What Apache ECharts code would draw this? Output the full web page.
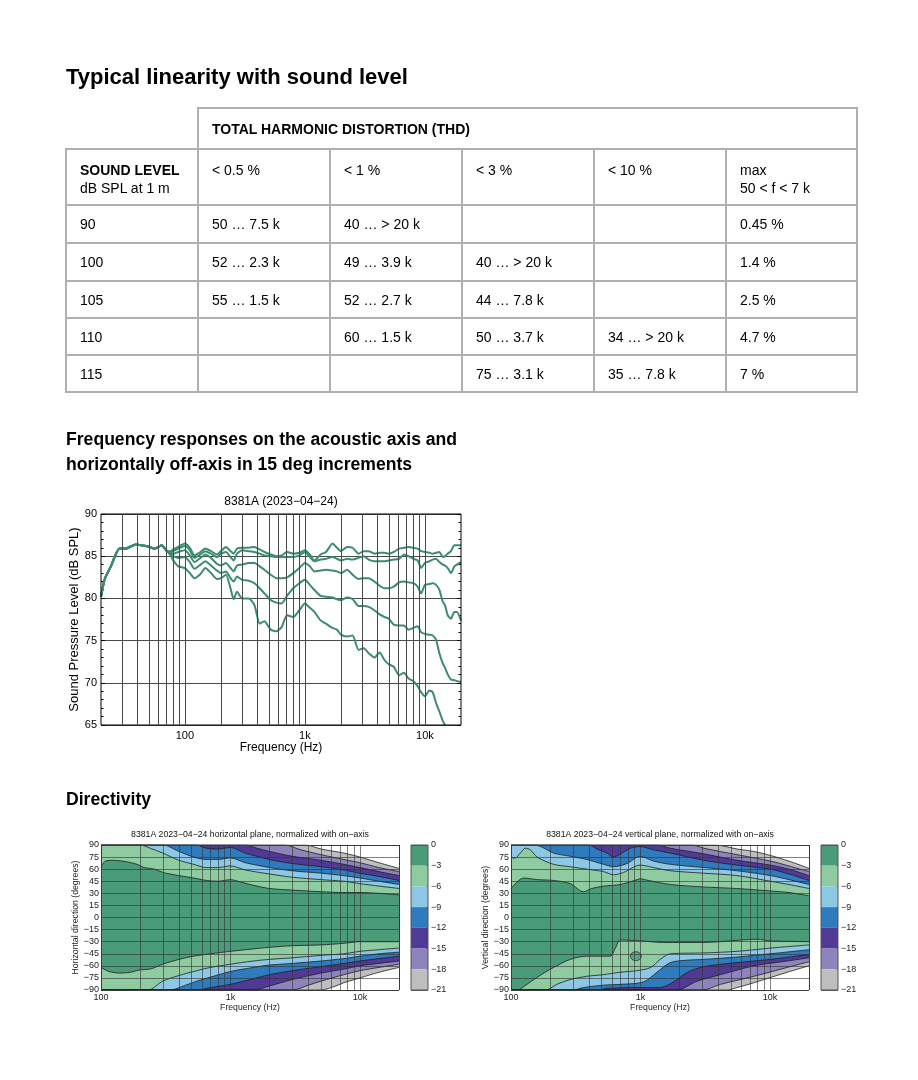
<!DOCTYPE html>
<html><head><meta charset="utf-8">
<script src="https://cdn.jsdelivr.net/npm/echarts@6/dist/echarts.min.js"></script>
<style>
html,body{margin:0;padding:0;background:#fff;}
#page{position:relative;width:918px;height:1080px;overflow:hidden;font-family:"Liberation Sans",Arial,Helvetica,sans-serif;color:#000;background:#fff;}
#chart{position:absolute;left:0;top:0;width:918px;height:1080px;}
.h{position:absolute;left:66px;font-weight:bold;margin:0;white-space:nowrap;}
#t1{top:66px;font-size:22px;line-height:22px;}
#t2{top:427px;font-size:17.6px;line-height:25px;}
#t3{top:787px;font-size:17.6px;line-height:25px;}
.ln{position:absolute;background:#b0b0b0;}
.cell{position:absolute;font-size:14px;line-height:18px;white-space:pre;}
.b{font-weight:bold;}
</style></head>
<body>
<div id="page">
  <div id="chart"></div>
  <div class="h" id="t1">Typical linearity with sound level</div>
  <div id="table"></div>
  <div class="h" id="t2">Frequency responses on the acoustic axis and<br>horizontally off-axis in 15 deg increments</div>
  <div class="h" id="t3">Directivity</div>
</div>
<script>
// ---------------- table data ----------------
const thdHeader = 'TOTAL HARMONIC DISTORTION (THD)';
const thdCols = ['< 0.5 %', '< 1 %', '< 3 %', '< 10 %', 'max\n50 < f < 7 k'];
const levelLabels = ['90', '100', '105', '110', '115'];
const thdRows = [
  ['50 … 7.5 k', '40 … > 20 k', '', '', '0.45 %'],
  ['52 … 2.3 k', '49 … 3.9 k', '40 … > 20 k', '', '1.4 %'],
  ['55 … 1.5 k', '52 … 2.7 k', '44 … 7.8 k', '', '2.5 %'],
  ['', '60 … 1.5 k', '50 … 3.7 k', '34 … > 20 k', '4.7 %'],
  ['', '', '75 … 3.1 k', '35 … 7.8 k', '7 %']
];

// ---------------- frequency response data ----------------
const freqs = [20,21.5,24,26.5,28.5,32,39,47.5,56,64,71,76,80,88,100,110,120,135,148,165,185,200,220,240,255,272,300,340,380,420,460,520,580,640,710,800,900,1000,1100,1200,1350,1500,1700,1850,2000,2250,2500,2800,3100,3400,3800,4200,4600,5000,5500,6100,6700,7300,8000,8700,9300,10000,10900,11600,12400,13200,14100,14700,15500,16500,17600,18500,20000];
const resp0 = [80.2,82.3,83.7,85.2,85.9,85.9,86.4,86.2,85.9,86.3,85.6,
  85.6,85.8,86.1,86.5,86.0,85.1,85.5,85.9,85.6,85.2,85.6,86.1,85.6,85.3,85.9,86.0,86.0,86.1,85.8,85.5,85.2,85.0,85.1,85.5,85.3,85.4,85.7,85.2,84.5,85.2,85.5,86.5,86.0,85.6,86.1,86.0,85.3,85.6,85.6,85.3,85.4,85.4,85.3,85.5,85.9,86.0,86.1,86.0,85.9,85.6,85.5,85.4,85.3,85.4,85.5,84.9,85.0,85.3,85.6,86.3,86.3,86.3];
const resp15 = [80.2,82.3,83.7,85.2,85.9,85.9,86.4,86.2,85.9,86.3,85.6,
  85.5,85.6,85.9,86.2,85.7,84.8,85.2,85.6,85.3,84.9,85.3,85.5,84.9,84.5,85.3,85.7,85.6,85.5,85.3,85.1,85.0,84.9,84.9,84.9,84.9,85.1,85.5,84.9,84.4,84.6,84.7,84.9,84.7,84.5,84.7,84.6,84.8,85.0,84.6,84.4,84.4,84.4,84.5,84.6,84.7,85.2,85.0,84.7,84.5,83.6,84.2,84.4,84.6,84.7,84.3,84.0,83.9,83.6,83.0,83.8,84.0,84.3];
const resp30 = [80.2,82.3,83.7,85.2,85.9,85.9,86.4,86.2,85.9,86.3,85.6,
  85.4,85.3,85.5,85.7,85.1,84.3,84.8,85.2,84.8,84.1,83.9,84.2,83.6,83.2,83.9,84.0,84.2,84.2,83.8,83.4,82.8,82.4,82.4,82.5,83.0,83.6,84.2,83.8,83.2,83.3,83.4,83.3,83.2,83.0,83.4,82.8,82.3,82.4,82.4,82.0,81.5,81.2,81.2,81.4,81.9,82.0,81.9,81.8,81.4,80.6,81.6,81.7,81.8,81.6,81.0,79.6,79.2,78.0,77.6,78.4,78.4,77.4];
const resp45 = [80.2,82.3,83.7,85.2,85.9,85.9,86.4,86.2,85.9,86.3,85.6,
  85.3,85.0,84.8,84.9,84.3,83.5,84.0,84.4,83.9,83.3,83.0,83.2,82.4,82.0,82.6,82.2,82.1,81.8,81.2,80.6,79.8,79.5,79.4,80.3,81.2,81.8,82.2,81.6,81.0,80.3,80.2,80.1,79.9,79.8,80.1,79.9,79.1,79.1,79.0,78.6,78.1,77.8,77.6,76.9,76.8,76.8,76.3,76.5,76.7,76.0,75.8,75.7,75.6,75.1,73.5,72.3,71.8,71.0,70.4,70.3,70.2,70.1];
const resp60 = [80.2,82.3,83.7,85.2,85.9,85.9,86.4,86.2,85.9,86.3,85.6,
  85.1,84.5,83.8,83.6,83.0,82.4,82.9,83.6,83.0,82.3,82.4,82.8,81.2,79.9,80.8,80.0,80.0,79.2,77.0,77.3,76.3,76.1,76.6,78.0,77.8,78.6,79.4,78.9,78.4,77.4,77.0,76.5,76.3,75.7,75.5,75.6,73.9,74.1,73.5,73.0,73.6,72.7,72.2,71.9,70.9,71.2,70.5,70.2,69.6,68.9,68.4,69.1,68.9,67.6,66.6,65.5,65.0,64.2,null,null,null,null];
const responses = [resp0, resp15, resp30, resp45, resp60];
const lineGridFreqs = [30,40,50,60,70,80,90,100,200,300,400,500,600,700,800,900,1000,2000,3000,4000,5000,6000,7000,8000,9000,10000];

// ---------------- directivity data: contour boundary [Hz, deg] ----------------
const hUp3  = [[100,62],[108,70],[125,71],[160,69],[190,66],[215,62],[260,60],[300,56],[400,52],[520,49],[650,46],[800,45],[1000,47],[1200,44],[1500,40],[2000,36],[3000,34],[5000,32],[7500,31],[10000,31],[14000,30],[20000,28]];
const hUp6  = [[100,90],[200,90],[240,86],[300,80],[400,71],[520,66],[650,62],[800,62],[1000,64],[1300,59],[2000,54],[3000,50],[5000,47],[7500,45],[10000,42],[14000,39],[20000,36]];
const hUp9  = [[100,90],[300,90],[400,82],[520,75],[650,72],[800,72],[1000,74],[1300,68],[2000,62],[3000,58],[5000,55],[7500,52],[10000,49],[14000,45],[20000,41]];
const hUp12 = [[100,90],[540,90],[650,86],[800,85],[1000,87],[1300,80],[2000,72],[3000,67],[5000,63],[7500,59],[10000,55],[14000,51],[20000,46]];
const hUp15 = [[100,90],[1300,90],[1600,86],[2000,82],[3000,76],[5000,71],[7500,66],[10000,62],[14000,57],[20000,52]];
const hUp18 = [[100,90],[2600,90],[3500,84],[5000,78],[7500,72],[10000,68],[14000,62],[20000,57]];
const hUp21 = [[100,90],[3800,90],[5000,85],[7500,80],[10000,75],[14000,68],[20000,61]];
const hLo3  = [[100,-62],[115,-67],[140,-69],[170,-68],[200,-65],[240,-64],[300,-58],[400,-52],[520,-48],[700,-45],[1000,-42],[1500,-39],[2000,-37],[3000,-35],[5000,-34],[7500,-32],[10000,-30],[14000,-30],[20000,-30]];
const hLo6  = [[100,-90],[230,-90],[300,-79],[400,-72],[520,-67],[700,-62],[1000,-58],[1500,-54],[2000,-52],[3000,-50],[5000,-47],[7500,-45],[10000,-42],[14000,-40],[20000,-38]];
const hLo9  = [[100,-90],[340,-90],[450,-84],[550,-79],[700,-74],[1000,-67],[1500,-62],[2000,-59],[3000,-57],[5000,-54],[7500,-51],[10000,-48],[14000,-45],[20000,-43]];
const hLo12 = [[100,-90],[560,-90],[700,-87],[1000,-83],[1500,-76],[2000,-71],[3000,-66],[5000,-61],[7500,-57],[10000,-54],[14000,-51],[20000,-48]];
const hLo15 = [[100,-90],[1500,-90],[2000,-85],[3000,-77],[5000,-69],[7500,-64],[10000,-60],[14000,-57],[20000,-54]];
const hLo18 = [[100,-90],[3000,-90],[4000,-84],[5000,-79],[7500,-71],[10000,-66],[14000,-62],[20000,-58]];
const hLo21 = [[100,-90],[5000,-90],[6500,-85],[7500,-81],[10000,-75],[14000,-68],[20000,-62]];

const vUp3  = [[100,36],[115,46],[125,49],[160,47],[213,46],[287,42],[363,32],[420,36],[520,39],[700,41],[900,46],[1000,48],[1150,46],[1700,41],[3000,38],[5500,36],[10000,33],[14000,31],[20000,27]];
const vUp6  = [[100,74],[108,74],[118,80],[129,86],[141,84],[159,75],[213,66],[287,63],[385,60],[518,57],[619,53],[740,56],[995,65],[1262,62],[1699,58],[3080,55],[5575,52],[10090,45],[14000,41],[20000,36]];
const vUp9  = [[100,90],[150,90],[170,88],[213,80],[287,76],[385,72],[518,66],[619,63],[785,67],[995,76],[1262,70],[1699,66],[3080,62],[5575,58],[10090,52],[14000,47],[20000,41]];
const vUp12 = [[100,90],[400,90],[461,85],[550,80],[619,75],[700,79],[833,86],[995,88],[1262,84],[1699,80],[3080,71],[5575,65],[10090,60],[14000,54],[20000,46]];
const vUp15 = [[100,90],[1340,90],[1700,86],[3080,79],[5575,71],[10090,65],[14000,60],[20000,52]];
const vUp18 = [[100,90],[2500,90],[3080,86],[5575,78],[10090,70],[14000,64],[20000,57]];
const vUp21 = [[100,90],[3800,90],[5575,85],[7500,82],[10090,77],[14000,70],[20000,61]];
const vLo3  = [[100,-90],[112,-90],[130,-84],[160,-74],[213,-62],[287,-52],[385,-48],[583,-48],[640,-38],[700,-28],[1000,-29],[1500,-31],[3000,-31],[6000,-28],[8000,-27],[10000,-29],[20000,-30]];
const vLo6  = [[100,-90],[185,-90],[226,-83],[287,-77],[385,-73],[518,-71],[697,-68],[938,-66],[1200,-62],[1421,-52],[1700,-45],[3080,-44],[5575,-42],[10090,-38],[20000,-34]];
const vLo9  = [[100,-90],[300,-90],[363,-87],[518,-84],[697,-83],[1056,-80],[1339,-68],[1699,-56],[2287,-53],[3080,-52],[5575,-49],[10090,-45],[20000,-40]];
const vLo12 = [[100,-90],[470,-90],[550,-88],[900,-87],[1400,-87],[1800,-80],[2300,-68],[3080,-61],[5575,-56],[10090,-52],[20000,-46]];
const vLo15 = [[100,-90],[1900,-90],[2734,-79],[4144,-71],[7500,-60],[13570,-54],[20000,-50]];
const vLo18 = [[100,-90],[3000,-90],[4144,-83],[7500,-73],[13570,-62],[20000,-55]];
const vLo21 = [[100,-90],[4700,-90],[5575,-87],[7500,-81],[13570,-68],[20000,-60]];
const vIsland = [[920,-48]];

const contourGridFreqs = [200,300,400,500,600,700,800,900,1000,2000,3000,4000,5000,6000,7000,8000,9000,10000];
const contourGridDegs = [-75,-60,-45,-30,-15,0,15,30,45,60,75];
const levels = [0,-3,-6,-9,-12,-15,-18,-21];
const levelColors = ['#4a9b7a','#8ecba0','#8cc8e4','#2e7bbd','#503a96','#8c84ba','#bebebe','#ffffff'];

// ---------------- table drawing ----------------
(function buildTable(){
  const t = document.getElementById('table');
  const colX = [66,198,330,462,594,726,857];
  const rowY = [108,149,205,243,281,318,355,392];
  function line(x,y,w,h){const d=document.createElement('div');d.className='ln';d.style.left=x+'px';d.style.top=y+'px';d.style.width=w+'px';d.style.height=h+'px';t.appendChild(d);}
  function cell(x,y,txt,bold){const d=document.createElement('div');d.className='cell'+(bold?' b':'');d.style.left=x+'px';d.style.top=y+'px';d.textContent=txt;t.appendChild(d);}
  line(colX[1]-1, rowY[0]-1, colX[6]-colX[1]+2, 2);
  for(let r=1;r<rowY.length;r++) line(colX[0]-1,rowY[r]-1,colX[6]-colX[0]+2,2);
  line(colX[0]-1,rowY[1]-1,2,rowY[7]-rowY[1]+2);
  line(colX[1]-1,rowY[0]-1,2,rowY[7]-rowY[0]+2);
  for(let c=2;c<6;c++) line(colX[c]-1,rowY[1]-1,2,rowY[7]-rowY[1]+2);
  line(colX[6]-1,rowY[0]-1,2,rowY[7]-rowY[0]+2);
  cell(colX[1]+14,rowY[0]+12,thdHeader,true);
  const slc=document.createElement('div');slc.className='cell';slc.style.left=(colX[0]+14)+'px';slc.style.top=(rowY[1]+12)+'px';
  slc.innerHTML='<b>SOUND LEVEL</b>\ndB SPL at 1 m';t.appendChild(slc);
  thdCols.forEach((s,i)=>cell(colX[i+1]+14,rowY[1]+12,s,false));
  levelLabels.forEach((lv,r)=>{
    cell(colX[0]+14,rowY[r+2]+10,lv,false);
    thdRows[r].forEach((s,i)=>{ if(s) cell(colX[i+1]+14,rowY[r+2]+10,s,false); });
  });
})();

// ---------------- chart ----------------
const FONT = '"Liberation Sans", Arial, Helvetica, sans-serif';
const minus = v => String(v).replace('-', '\u2212');
const logLabel = v => { const r = Math.round(v); return r===100?'100':r===1000?'1k':r===10000?'10k':''; };
const chart = echarts.init(document.getElementById('chart'), null, {renderer:'canvas'});

function contourX(grid, name){
  return {type:'log', logBase:10, gridIndex:grid, min:100, max:20000,
    axisLine:{show:false}, axisTick:{show:false}, splitLine:{show:false},
    axisLabel:{fontSize:9, color:'#222', margin:3, formatter:logLabel, showMaxLabel:false, hideOverlap:false},
    name:name, nameLocation:'middle', nameGap:13, nameTextStyle:{fontSize:8.7, color:'#222'}};
}
function contourY(grid, name){
  return {type:'value', gridIndex:grid, min:-90, max:90, interval:15,
    axisLine:{show:false}, axisTick:{show:true, inside:true, length:2, lineStyle:{color:'#333'}}, splitLine:{show:false},
    axisLabel:{fontSize:9, color:'#222', margin:2, formatter:minus},
    name:name, nameLocation:'middle', nameGap:21, nameTextStyle:{fontSize:8.7, color:'#222'}};
}
function cbX(grid){ return {type:'category', gridIndex:grid, data:['dB'], show:false}; }
function cbY(grid){
  return {type:'value', gridIndex:grid, min:-21, max:0, interval:3, position:'right',
    axisLine:{show:false}, splitLine:{show:false},
    axisTick:{show:true, inside:true, length:2, lineStyle:{color:'#333'}},
    axisLabel:{fontSize:9, color:'#222', margin:3, formatter:minus}};
}
function band(data, level, origin, xi, yi){
  return {type:'line', xAxisIndex:xi, yAxisIndex:yi, data:data, smooth:0.3, symbol:'none',
    lineStyle:{color:'#1e1e1e', width:0.8}, areaStyle:{color:levelColors[level], opacity:1, origin:origin},
    z:2, silent:true, animation:false};
}
function frameLines(){
  return [{xAxis:100},{xAxis:20000},{yAxis:90},{yAxis:-90}].map(d=>Object.assign(d,{lineStyle:{color:'#3a3a3a', width:1, opacity:1}}));
}
function contourSeries(ups, los, xi, yi, extra){
  const s = [];
  s.push({type:'line', xAxisIndex:xi, yAxisIndex:yi, data:[[100,90],[20000,90]], symbol:'none',
    lineStyle:{width:0}, areaStyle:{color:levelColors[0], opacity:1, origin:'start'}, z:1, silent:true, animation:false});
  ups.forEach((d,i)=>s.push(band(d, i+1, 'end', xi, yi)));
  los.forEach((d,i)=>s.push(band(d, i+1, 'start', xi, yi)));
  if (extra) s.push(extra);
  s.push({type:'line', xAxisIndex:xi, yAxisIndex:yi, data:[], symbol:'none', z:4, silent:true, animation:false,
    markLine:{silent:true, symbol:['none','none'], label:{show:false}, animation:false,
      lineStyle:{color:'rgba(50,50,50,0.62)', width:1, type:'solid'},
      data: contourGridFreqs.map(f=>({xAxis:f})).concat(contourGridDegs.map(d=>({yAxis:d}))).concat(frameLines())}});
  return s;
}
function colorbarSeries(xi, yi, stack){
  const s = levels.slice(1).map((lv,i)=>({type:'bar', xAxisIndex:xi, yAxisIndex:yi, stack:stack,
    data:[levels[i+1]-levels[i]], barWidth:'100%', itemStyle:{color:levelColors[i]}, silent:true, animation:false}));
  s.push({type:'line', xAxisIndex:xi, yAxisIndex:yi, data:[], symbol:'none', z:5, silent:true, animation:false,
    markLine:{silent:true, symbol:['none','none'], label:{show:false}, animation:false,
      lineStyle:{color:'#555', width:1, type:'solid'}, data:[{yAxis:0},{yAxis:-21}]}});
  return s;
}

const series = [];
// line chart grid lines
series.push({type:'line', xAxisIndex:0, yAxisIndex:0, data:[], symbol:'none', z:1, silent:true, animation:false,
  markLine:{silent:true, symbol:['none','none'], label:{show:false}, animation:false,
    lineStyle:{color:'#4a4a4a', width:1, type:'solid'}, data: lineGridFreqs.map(f=>({xAxis:f}))}});
responses.forEach(r=>series.push({type:'line', xAxisIndex:0, yAxisIndex:0, z:3,
  data: freqs.map((f,i)=>[f, r[i]]), smooth:0.2, symbol:'none', connectNulls:false,
  lineStyle:{color:'#3d8c6d', width:2}, animation:false}));
contourSeries([hUp3,hUp6,hUp9,hUp12,hUp15,hUp18,hUp21],[hLo3,hLo6,hLo9,hLo12,hLo15,hLo18,hLo21],1,2,null).forEach(s=>series.push(s));
colorbarSeries(2,3,'cbh').forEach(s=>series.push(s));
contourSeries([vUp3,vUp6,vUp9,vUp12,vUp15,vUp18,vUp21],[vLo3,vLo6,vLo9,vLo12,vLo15,vLo18,vLo21],3,4,
  {type:'scatter', xAxisIndex:3, yAxisIndex:4, data:vIsland, symbol:'circle', symbolSize:[11,9], z:3,
   itemStyle:{color:levelColors[0], borderColor:'#1e1e1e', borderWidth:0.8}, silent:true, animation:false}).forEach(s=>series.push(s));
colorbarSeries(4,5,'cbv').forEach(s=>series.push(s));

const option = {
  animation:false,
  backgroundColor:'transparent',
  textStyle:{fontFamily:FONT},
  grid:[
    {left:101, top:514, width:360, height:211, show:true, borderColor:'#000', borderWidth:1, z:5, backgroundColor:'transparent'},
    {left:101, top:845, width:298, height:145, show:false},
    {left:411, top:845, width:17, height:145, show:true, borderColor:'#555', borderWidth:1, z:5, backgroundColor:'transparent'},
    {left:511, top:845, width:298, height:145, show:false},
    {left:821, top:845, width:17, height:145, show:true, borderColor:'#555', borderWidth:1, z:5, backgroundColor:'transparent'}
  ],
  xAxis:[
    {type:'log', logBase:10, gridIndex:0, min:20, max:20000,
      axisLine:{show:false}, axisTick:{show:false}, splitLine:{show:false},
      axisLabel:{fontSize:11, color:'#000', margin:5, formatter:logLabel, showMinLabel:false, showMaxLabel:false},
      name:'Frequency (Hz)', nameLocation:'middle', nameGap:16, nameTextStyle:{fontSize:12, color:'#000'}},
    contourX(1,'Frequency (Hz)'),
    cbX(2),
    contourX(3,'Frequency (Hz)'),
    cbX(4)
  ],
  yAxis:[
    {type:'value', gridIndex:0, min:65, max:90, interval:5,
      axisLine:{show:false}, axisTick:{show:true, inside:true, length:4, lineStyle:{color:'#000'}},
      minorTick:{show:true, splitNumber:5, length:2.5, lineStyle:{color:'#000'}},
      splitLine:{show:true, lineStyle:{color:'#4a4a4a', width:1}},
      axisLabel:{fontSize:11, color:'#000', margin:4},
      name:'Sound Pressure Level (dB SPL)', nameLocation:'middle', nameGap:20, nameTextStyle:{fontSize:13, color:'#000'}},
    {type:'value', gridIndex:0, min:65, max:90, interval:5, position:'right',
      axisLine:{show:false}, axisTick:{show:true, inside:true, length:4, lineStyle:{color:'#000'}},
      minorTick:{show:true, splitNumber:5, length:2.5, lineStyle:{color:'#000'}},
      splitLine:{show:false}, axisLabel:{show:false}},
    contourY(1,'Horizontal direction (degrees)'),
    cbY(2),
    contourY(3,'Vertical direction (degrees)'),
    cbY(4)
  ],
  graphic:[
    {type:'text', x:281, y:502, style:{text:'8381A (2023\u221204\u221224)', font:'12px '+FONT, fill:'#000', textAlign:'center', textVerticalAlign:'middle'}},
    {type:'text', x:250, y:835, style:{text:'8381A 2023\u221204\u221224 horizontal plane, normalized with on\u2212axis', font:'8.7px '+FONT, fill:'#111', textAlign:'center', textVerticalAlign:'middle'}},
    {type:'text', x:660, y:835, style:{text:'8381A 2023\u221204\u221224 vertical plane, normalized with on\u2212axis', font:'8.7px '+FONT, fill:'#111', textAlign:'center', textVerticalAlign:'middle'}}
  ],
  series: series
};
chart.setOption(option);
</script>
</body></html>
